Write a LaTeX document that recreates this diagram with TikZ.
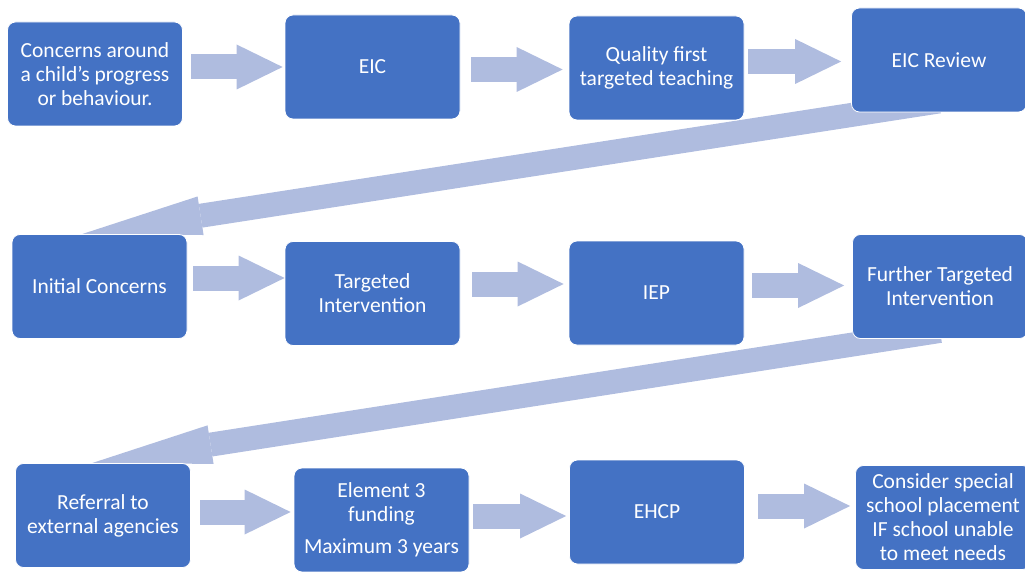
\documentclass[tikz,border=0pt]{standalone}
\usepackage{fontspec}
\setmainfont{Carlito}
\usetikzlibrary{arrows.meta,backgrounds}
\definecolor{boxblue}{HTML}{4472C4}
\definecolor{arrowblue}{HTML}{AFBCDF}

\begin{document}
\begin{tikzpicture}[x=1pt,y=-1pt,
    stage/.style={shape=rectangle,rounded corners=8pt,draw=white,line width=0.8pt,fill=boxblue,
        text=white,minimum width=175pt,minimum height=104pt,inner sep=2pt,align=center,
        font=\fontsize{21.5}{24}\selectfont},
    flow/.style={draw=arrowblue,line width=25pt,-{Triangle[length=46pt,width=45pt,line width=0pt]}},
    back/.style={draw=arrowblue,line width=24pt,-{Triangle[length=120pt,width=39pt,line width=0pt]}}]
    \useasboundingbox (0,0) rectangle (1025,572);
    \foreach \name/\cx/\cy/\txt in {%
        concern/95/74/{Concerns around\\a child’s progress\\or behaviour.},
        eic/372.5/67/{EIC},
        quality/656.5/68/{Quality first\\targeted teaching},
        review/939/60/{EIC Review},
        initial/99.5/286.5/{Initial Concerns},
        targeted/372.5/293.5/{Targeted\\Intervention},
        iep/656.5/293/{IEP},
        further/940/286.5/{Further Targeted\\Intervention},
        referral/103/515.5/{Referral to\\external agencies},
        funding/381.5/520/{Element 3\\funding\\[8pt]Maximum 3 years},
        ehcp/657/512/{EHCP},
        special/943/517.5/{Consider special\\school placement\\IF school unable\\to meet needs}}
        \node[stage] (\name) at (\cx,\cy) {\txt};
    \begin{scope}[on background layer]
        \foreach \src/\sx/\sy/\dst/\dx/\dy in {%
            concern/8.5/7/eic/-2/0, eic/11/-2.5/quality/-6/-1.5, quality/4/6.5/review/-10/-1.5,
            initial/6/8.5/targeted/0/15.5, targeted/12/9.5/iep/-5/9, iep/8/7.5/further/-8/1,
            referral/9.5/3.5/funding/-3/8, funding/4/4/ehcp/-3/-4, ehcp/13.5/6/special/-5/11.5}
            \draw[flow] ([xshift=\sx pt,yshift=\sy pt]\src.east) -- ([xshift=\dx pt,yshift=\dy pt]\dst.west);
        \draw[back] ([yshift=11pt]review.south) -- ([xshift=-17.5pt]initial.north);
        \draw[back] ([yshift=8pt]further.south) -- ([xshift=-11pt]referral.north);
    \end{scope}
\end{tikzpicture}
\end{document}
